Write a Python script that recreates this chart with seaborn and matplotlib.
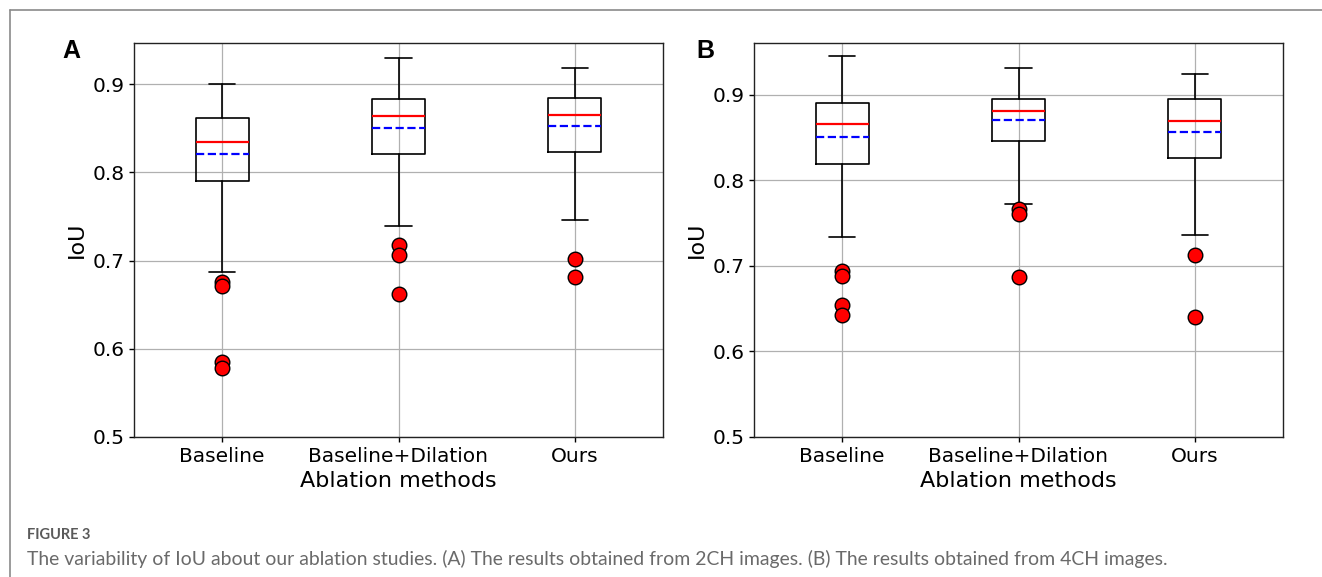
import pandas as pd
import matplotlib
matplotlib.use("Agg")
import matplotlib.pyplot as plt
from matplotlib.lines import Line2D
import seaborn as sns

# Boxplot statistics (IoU)
methods = ["Baseline", "Baseline+Dilation", "Ours"]

# (A) 2CH images
a_whislo = [0.6875, 0.7392, 0.7464]
a_q1 = [0.790, 0.8204, 0.8226]
a_med = [0.834, 0.8634, 0.8653]
a_mean = [0.8208, 0.8498, 0.8520]
a_q3 = [0.861, 0.883, 0.884]
a_whishi = [0.900, 0.929, 0.918]
a_fliers = [[0.6755, 0.6706, 0.585, 0.578],
            [0.7181, 0.7064, 0.6619],
            [0.7019, 0.6815]]

# (B) 4CH images
b_whislo = [0.7342, 0.7720, 0.7366]
b_q1 = [0.8191, 0.8463, 0.8265]
b_med = [0.8658, 0.8810, 0.8696]
b_mean = [0.8506, 0.8708, 0.8568]
b_q3 = [0.8899, 0.8950, 0.8950]
b_whishi = [0.9451, 0.9311, 0.9241]
b_fliers = [[0.6938, 0.6883, 0.6541, 0.6420],
            [0.7665, 0.7607, 0.6868],
            [0.7128, 0.6397]]

sns.set_theme(style="ticks", rc={
    "axes.grid": True,
    "grid.color": "#b0b0b0",
    "grid.linewidth": 0.9,
    "axes.edgecolor": "#222222",
    "axes.linewidth": 1.0,
    "xtick.color": "black",
    "ytick.color": "black",
    "text.color": "black",
    "axes.labelcolor": "black",
})
plt.rcParams["font.family"] = ["DejaVu Sans"]

W, H = 1322, 577
fig = plt.figure(figsize=(W / 100, H / 100), dpi=100)


def draw_panel(rect, whislo, q1, med, mean, q3, whishi, fliers, letter, letter_x):
    ax = fig.add_axes(rect)
    stats = []
    for i, m in enumerate(methods):
        stats.append(dict(label=m, whislo=whislo[i], q1=q1[i], med=med[i],
                          mean=mean[i], q3=q3[i], whishi=whishi[i], fliers=[]))
    ax.bxp(stats, positions=[0, 1, 2], widths=0.3, showmeans=True,
           meanline=True, showfliers=False, manage_ticks=False,
           boxprops=dict(color="black", linewidth=1.2),
           whiskerprops=dict(color="black", linewidth=1.2),
           capprops=dict(color="black", linewidth=1.2),
           medianprops=dict(color="red", linewidth=1.6),
           meanprops=dict(color="blue", linestyle="--", linewidth=1.6))

    # outliers
    df = pd.DataFrame({
        "method": [m for m, f in zip(methods, fliers) for _ in f],
        "IoU": [v for f in fliers for v in f],
    })
    sns.stripplot(data=df, x="method", y="IoU", order=methods, jitter=False,
                  color="red", size=10.5, edgecolor="black", linewidth=1,
                  ax=ax, zorder=4)

    ax.grid(True)
    ax.set_axisbelow(True)
    ax.autoscale_view()
    ax.set_ylim(bottom=0.5)
    ax.set_xlim(-0.5, 2.5)
    ax.set_yticks([0.5, 0.6, 0.7, 0.8, 0.9])
    ax.tick_params(axis="both", labelsize=14.5, length=3.5, width=1,
                   direction="out", bottom=True, left=True)
    ax.set_xlabel("Ablation methods", fontsize=16)
    ax.set_ylabel("IoU", fontsize=16)
    fig.text(letter_x / W, 1 - 50.5 / H, letter, fontsize=18, fontweight="bold",
             color="black", family=["Liberation Sans", "DejaVu Sans"],
             ha="left", va="center")
    return ax


ax_h = (437 - 43) / H
ax_b = 1 - 437 / H
draw_panel([134 / W, ax_b, 529 / W, ax_h], a_whislo, a_q1, a_med, a_mean,
           a_q3, a_whishi, a_fliers, "A", 62)
draw_panel([754 / W, ax_b, 529 / W, ax_h], b_whislo, b_q1, b_med, b_mean,
           b_q3, b_whishi, b_fliers, "B", 696)

# frame around the figure panel
fig.add_artist(Line2D([10 / W, 1], [1 - 10 / H, 1 - 10 / H], color="#8a8a8a",
                      linewidth=1.2, transform=fig.transFigure))
fig.add_artist(Line2D([10 / W, 10 / W], [0, 1 - 10 / H], color="#8a8a8a",
                      linewidth=1.2, transform=fig.transFigure))

# caption
fig.text(27 / W, 1 - 535 / H, "FIGURE 3", fontsize=10.5, fontweight="bold",
         color="#5a5a5a", family=["Lato", "DejaVu Sans"],
         ha="left", va="center")
cap = fig.text(27 / W, 1 - 559 / H,
               "The variability of IoU about our ablation studies. (A) The results "
               "obtained from 2CH images. (B) The results obtained from 4CH images.",
               fontsize=10.5, color="#6a6a6a", family=["Lato", "DejaVu Sans"],
               ha="left", va="center")
renderer = fig.canvas.get_renderer()
w = cap.get_window_extent(renderer).width
cap.set_fontsize(10.5 * 1148 / w)

fig.savefig("out.png", dpi=100)
